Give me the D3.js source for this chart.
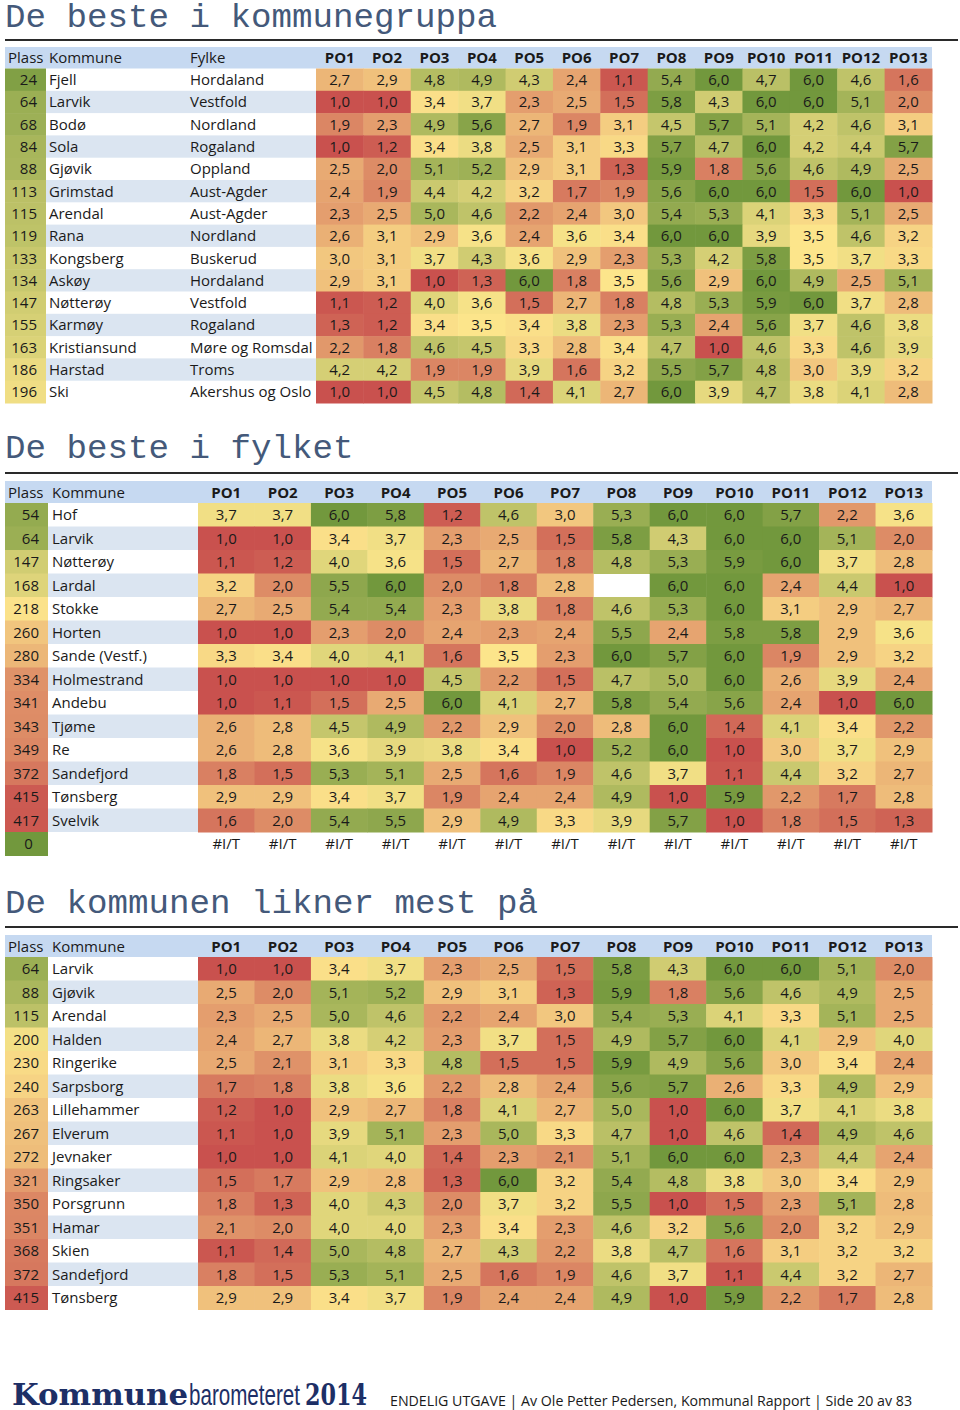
<!DOCTYPE html>
<html><head><meta charset="utf-8">
<script src="https://cdn.jsdelivr.net/npm/d3@7"></script>
<style>body{margin:0;background:#fff}</style>
</head><body>
<svg id="chart" width="960" height="1410"></svg>
<script>
const poLabels = ["PO1","PO2","PO3","PO4","PO5","PO6","PO7","PO8","PO9","PO10","PO11","PO12","PO13"];

// Section 1: De beste i kommunegruppa
const grpPlass = [24,64,68,84,88,113,115,119,133,134,147,155,163,186,196];
const grpKommune = ["Fjell","Larvik","Bodø","Sola","Gjøvik","Grimstad","Arendal","Rana","Kongsberg","Askøy","Nøtterøy","Karmøy","Kristiansund","Harstad","Ski"];
const grpFylke = ["Hordaland","Vestfold","Nordland","Rogaland","Oppland","Aust-Agder","Aust-Agder","Nordland","Buskerud","Hordaland","Vestfold","Rogaland","Møre og Romsdal","Troms","Akershus og Oslo"];
const grpValues = [
  [2.7,2.9,4.8,4.9,4.3,2.4,1.1,5.4,6.0,4.7,6.0,4.6,1.6],
  [1.0,1.0,3.4,3.7,2.3,2.5,1.5,5.8,4.3,6.0,6.0,5.1,2.0],
  [1.9,2.3,4.9,5.6,2.7,1.9,3.1,4.5,5.7,5.1,4.2,4.6,3.1],
  [1.0,1.2,3.4,3.8,2.5,3.1,3.3,5.7,4.7,6.0,4.2,4.4,5.7],
  [2.5,2.0,5.1,5.2,2.9,3.1,1.3,5.9,1.8,5.6,4.6,4.9,2.5],
  [2.4,1.9,4.4,4.2,3.2,1.7,1.9,5.6,6.0,6.0,1.5,6.0,1.0],
  [2.3,2.5,5.0,4.6,2.2,2.4,3.0,5.4,5.3,4.1,3.3,5.1,2.5],
  [2.6,3.1,2.9,3.6,2.4,3.6,3.4,6.0,6.0,3.9,3.5,4.6,3.2],
  [3.0,3.1,3.7,4.3,3.6,2.9,2.3,5.3,4.2,5.8,3.5,3.7,3.3],
  [2.9,3.1,1.0,1.3,6.0,1.8,3.5,5.6,2.9,6.0,4.9,2.5,5.1],
  [1.1,1.2,4.0,3.6,1.5,2.7,1.8,4.8,5.3,5.9,6.0,3.7,2.8],
  [1.3,1.2,3.4,3.5,3.4,3.8,2.3,5.3,2.4,5.6,3.7,4.6,3.8],
  [2.2,1.8,4.6,4.5,3.3,2.8,3.4,4.7,1.0,4.6,3.3,4.6,3.9],
  [4.2,4.2,1.9,1.9,3.9,1.6,3.2,5.5,5.7,4.8,3.0,3.9,3.2],
  [1.0,1.0,4.5,4.8,1.4,4.1,2.7,6.0,3.9,4.7,3.8,4.1,2.8]
];

// Section 2: De beste i fylket
const fylPlass = [54,64,147,168,218,260,280,334,341,343,349,372,415,417,0];
const fylKommune = ["Hof","Larvik","Nøtterøy","Lardal","Stokke","Horten","Sande (Vestf.)","Holmestrand","Andebu","Tjøme","Re","Sandefjord","Tønsberg","Svelvik",""];
const fylValues = [
  [3.7,3.7,6.0,5.8,1.2,4.6,3.0,5.3,6.0,6.0,5.7,2.2,3.6],
  [1.0,1.0,3.4,3.7,2.3,2.5,1.5,5.8,4.3,6.0,6.0,5.1,2.0],
  [1.1,1.2,4.0,3.6,1.5,2.7,1.8,4.8,5.3,5.9,6.0,3.7,2.8],
  [3.2,2.0,5.5,6.0,2.0,1.8,2.8,null,6.0,6.0,2.4,4.4,1.0],
  [2.7,2.5,5.4,5.4,2.3,3.8,1.8,4.6,5.3,6.0,3.1,2.9,2.7],
  [1.0,1.0,2.3,2.0,2.4,2.3,2.4,5.5,2.4,5.8,5.8,2.9,3.6],
  [3.3,3.4,4.0,4.1,1.6,3.5,2.3,6.0,5.7,6.0,1.9,2.9,3.2],
  [1.0,1.0,1.0,1.0,4.5,2.2,1.5,4.7,5.0,6.0,2.6,3.9,2.4],
  [1.0,1.1,1.5,2.5,6.0,4.1,2.7,5.8,5.4,5.6,2.4,1.0,6.0],
  [2.6,2.8,4.5,4.9,2.2,2.9,2.0,2.8,6.0,1.4,4.1,3.4,2.2],
  [2.6,2.8,3.6,3.9,3.8,3.4,1.0,5.2,6.0,1.0,3.0,3.7,2.9],
  [1.8,1.5,5.3,5.1,2.5,1.6,1.9,4.6,3.7,1.1,4.4,3.2,2.7],
  [2.9,2.9,3.4,3.7,1.9,2.4,2.4,4.9,1.0,5.9,2.2,1.7,2.8],
  [1.6,2.0,5.4,5.5,2.9,4.9,3.3,3.9,5.7,1.0,1.8,1.5,1.3],
  ["#I/T","#I/T","#I/T","#I/T","#I/T","#I/T","#I/T","#I/T","#I/T","#I/T","#I/T","#I/T","#I/T"]
];

// Section 3: De kommunen likner mest på
const likPlass = [64,88,115,200,230,240,263,267,272,321,350,351,368,372,415];
const likKommune = ["Larvik","Gjøvik","Arendal","Halden","Ringerike","Sarpsborg","Lillehammer","Elverum","Jevnaker","Ringsaker","Porsgrunn","Hamar","Skien","Sandefjord","Tønsberg"];
const likValues = [
  [1.0,1.0,3.4,3.7,2.3,2.5,1.5,5.8,4.3,6.0,6.0,5.1,2.0],
  [2.5,2.0,5.1,5.2,2.9,3.1,1.3,5.9,1.8,5.6,4.6,4.9,2.5],
  [2.3,2.5,5.0,4.6,2.2,2.4,3.0,5.4,5.3,4.1,3.3,5.1,2.5],
  [2.4,2.7,3.8,4.2,2.3,3.7,1.5,4.9,5.7,6.0,4.1,2.9,4.0],
  [2.5,2.1,3.1,3.3,4.8,1.5,1.5,5.9,4.9,5.6,3.0,3.4,2.4],
  [1.7,1.8,3.8,3.6,2.2,2.8,2.4,5.6,5.7,2.6,3.3,4.9,2.9],
  [1.2,1.0,2.9,2.7,1.8,4.1,2.7,5.0,1.0,6.0,3.7,4.1,3.8],
  [1.1,1.0,3.9,5.1,2.3,5.0,3.3,4.7,1.0,4.6,1.4,4.9,4.6],
  [1.0,1.0,4.1,4.0,1.4,2.3,2.1,5.1,6.0,6.0,2.3,4.4,2.4],
  [1.5,1.7,2.9,2.8,1.3,6.0,3.2,5.4,4.8,3.8,3.0,3.4,2.9],
  [1.8,1.3,4.0,4.3,2.0,3.7,3.2,5.5,1.0,1.5,2.3,5.1,2.8],
  [2.1,2.0,4.0,4.0,2.3,3.4,2.3,4.6,3.2,5.6,2.0,3.2,2.9],
  [1.1,1.4,5.0,4.8,2.7,4.3,2.2,3.8,4.7,1.6,3.1,3.2,3.2],
  [1.8,1.5,5.3,5.1,2.5,1.6,1.9,4.6,3.7,1.1,4.4,3.2,2.7],
  [2.9,2.9,3.4,3.7,1.9,2.4,2.4,4.9,1.0,5.9,2.2,1.7,2.8]
];

const titles = ["De beste i kommunegruppa","De beste i fylket","De kommunen likner mest på"];
const footerText = "ENDELIG UTGAVE | Av Ole Petter Pedersen, Kommunal Rapport | Side 20 av 83";

const svg = d3.select("#chart");
const FONT = "'Open Sans', 'Noto Sans', sans-serif";
const valueColor = d3.scaleLinear().domain([1,3.5,6]).range(["#c9514e","#fce58b","#72983d"]).clamp(true);
const plassColor = d3.scaleLinear().domain([1,214,428]).range(["#72983d","#fce58b","#c9514e"]).clamp(true);
const fmt = v => d3.format(".1f")(v).replace(".", ",");

function drawTitle(text, baseline, ruleY){
  svg.append("text").attr("x",5).attr("y",baseline)
    .attr("font-family","'Liberation Mono','Courier New',monospace")
    .attr("font-size",33).attr("fill","#44597a")
    .attr("textLength", text.length*20.5).attr("lengthAdjust","spacingAndGlyphs").text(text);
  svg.append("line").attr("x1",5).attr("x2",958).attr("y1",ruleY).attr("y2",ruleY)
    .attr("stroke","#2a2a2a").attr("stroke-width",2);
}

function drawTable(cfg){
  const n = cfg.plass.length;
  const g = svg.append("g");
  const rowY = d3.scaleBand().domain(d3.range(n)).range([cfg.top + cfg.headH, cfg.top + cfg.headH + n*cfg.rowH]);
  const colX = d3.scaleBand().domain(poLabels).range([cfg.poX0, cfg.poX1]);
  // header
  g.append("rect").attr("x",5).attr("y",cfg.top).attr("width",cfg.poX1-5).attr("height",cfg.headH).attr("fill","#c6d9f1");
  const hy = cfg.top + cfg.headH/2 + 5.5;
  g.append("text").attr("x",8).attr("y",hy).text("Plass");
  g.append("text").attr("x",cfg.komX).attr("y",hy).text("Kommune");
  if (cfg.fylke) g.append("text").attr("x",cfg.fylX).attr("y",hy).text("Fylke");
  g.selectAll(".ph").data(poLabels).join("text")
    .attr("x", d => colX(d) + colX.bandwidth()/2).attr("y",hy)
    .attr("text-anchor","middle").attr("font-weight","bold").text(d => d);
  // rows
  d3.range(n).forEach(i => {
    const y = rowY(i), h = rowY.bandwidth();
    const ty = y + h/2 + 5.5;
    g.append("rect").attr("x",5).attr("y",y).attr("width",cfg.plassX1-5).attr("height",h+0.5)
      .attr("fill",plassColor(cfg.plass[i]));
    if (i % 2 === 1) g.append("rect").attr("x",cfg.plassX1).attr("y",y).attr("width",cfg.poX0-cfg.plassX1).attr("height",h).attr("fill","#dbe5f1");
    const pt = g.append("text").attr("y",ty).text(cfg.plass[i]);
    if (cfg.plass[i] === 0) pt.attr("x",(5+cfg.plassX1)/2 + 2).attr("text-anchor","middle");
    else pt.attr("x",cfg.plassTextX).attr("text-anchor","end");
    g.append("text").attr("x",cfg.komX).attr("y",ty).text(cfg.kommune[i]);
    if (cfg.fylke) g.append("text").attr("x",cfg.fylX).attr("y",ty).text(cfg.fylke[i]);
    const row = cfg.values[i];
    g.selectAll(null).data(poLabels.map((p,j)=>({p, v: row[j]}))).join("g").each(function(d){
      const s = d3.select(this);
      if (typeof d.v === "number") {
        s.append("rect").attr("x",colX(d.p)).attr("y",y).attr("width",colX.bandwidth()+0.5).attr("height",h+0.5).attr("fill",valueColor(d.v));
        s.append("text").attr("x",colX(d.p)+colX.bandwidth()/2).attr("y",ty).attr("text-anchor","middle").text(fmt(d.v));
      } else if (typeof d.v === "string") {
        s.append("text").attr("x",colX(d.p)+colX.bandwidth()/2).attr("y",ty).attr("text-anchor","middle").text(d.v);
      }
    });
  });
  g.attr("font-family",FONT).attr("font-size",15).attr("fill","#1a1a1a");
}

drawTitle(titles[0], 27, 40);
drawTable({top:47, headH:21.5, rowH:22.3, plass:grpPlass, kommune:grpKommune, fylke:grpFylke, values:grpValues,
  plassX1:46, plassTextX:37, komX:49, fylX:190, poX0:316, poX1:932});

drawTitle(titles[1], 458, 473);
drawTable({top:481, headH:22, rowH:23.5, plass:fylPlass, kommune:fylKommune, values:fylValues,
  plassX1:48, plassTextX:39, komX:52, poX0:198, poX1:932});

drawTitle(titles[2], 913, 927);
drawTable({top:935, headH:22, rowH:23.5, plass:likPlass, kommune:likKommune, values:likValues,
  plassX1:48, plassTextX:39, komX:52, poX0:198, poX1:932});

// footer
const f = svg.append("g");
f.append("text").attr("x",12).attr("y",1405).attr("font-family","'DejaVu Serif',serif").attr("font-weight","bold")
  .attr("font-size",29).attr("fill","#1d2f66").attr("textLength",176).attr("lengthAdjust","spacingAndGlyphs").text("Kommune");
f.append("text").attr("x",189).attr("y",1405).attr("font-family","'Liberation Sans Narrow','Liberation Sans',sans-serif").attr("font-weight","300")
  .attr("font-size",30).attr("fill","#1d2f66").attr("textLength",111).attr("lengthAdjust","spacingAndGlyphs").text("barometeret");
f.append("text").attr("x",305).attr("y",1405).attr("font-family","'DejaVu Serif',serif").attr("font-weight","bold")
  .attr("font-size",29).attr("fill","#1d2f66").attr("textLength",62).attr("lengthAdjust","spacingAndGlyphs").text("2014");
f.append("text").attr("x",390).attr("y",1406).attr("font-family",FONT).attr("font-size",14).attr("fill","#1a1a1a")
  .attr("textLength",522).attr("lengthAdjust","spacingAndGlyphs").text(footerText);
</script>
</body></html>
